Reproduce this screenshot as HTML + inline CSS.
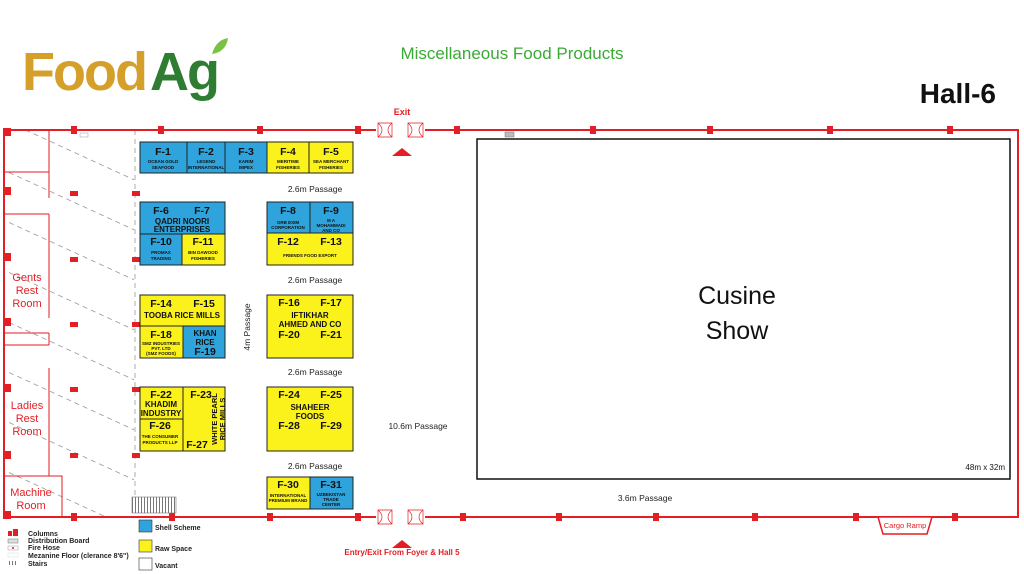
<!DOCTYPE html>
<html><head><meta charset="utf-8"><style>
html,body{margin:0;padding:0;background:#fff;width:1024px;height:574px;overflow:hidden}
svg{display:block;position:absolute;left:0;top:0}
text{font-family:"Liberation Sans",sans-serif}
.b{font-weight:bold}
</style></head><body>
<svg width="1024" height="574" viewBox="0 0 1024 574">
<defs>
<pattern id="st" width="3" height="10" patternUnits="userSpaceOnUse"><rect width="3" height="10" fill="#fff"/><rect width="1" height="10" fill="#777"/></pattern>
<clipPath id="lc"><rect x="6" y="131" width="128" height="385"/></clipPath>
</defs>
<!-- header -->
<text x="22" y="90" font-size="54" font-weight="bold" fill="#d4a02a" letter-spacing="-2">Food</text>
<text x="150" y="90" font-size="54" font-weight="bold" fill="#2e7d32" letter-spacing="-2">Ag</text>
<path d="M212 54 q4 -14 16 -16 q-2 14 -16 16z" fill="#7cc242"/>
<text x="512" y="59" font-size="17" fill="#3aaa35" text-anchor="middle">Miscellaneous Food Products</text>
<text x="996" y="103" font-size="28" font-weight="bold" fill="#111" text-anchor="end">Hall-6</text>
<text x="402" y="115" font-size="9" fill="#e31e24" text-anchor="middle" class="b">Exit</text>
<polygon points="392,156 402,148 412,156" fill="#e31e24"/>
<!-- hatch area -->
<g clip-path="url(#lc)" stroke="#999" stroke-width="0.8" stroke-dasharray="5,4">
<line x1="-40" y1="100" x2="200" y2="210"/><line x1="-40" y1="150" x2="200" y2="260"/>
<line x1="-40" y1="200" x2="200" y2="310"/><line x1="-40" y1="250" x2="200" y2="360"/>
<line x1="-40" y1="300" x2="200" y2="410"/><line x1="-40" y1="350" x2="200" y2="460"/>
<line x1="-40" y1="400" x2="200" y2="510"/><line x1="-40" y1="450" x2="200" y2="560"/>
<line x1="-40" y1="50" x2="200" y2="160"/><line x1="-40" y1="500" x2="200" y2="610"/>
</g>
<line x1="135" y1="130" x2="135" y2="516" stroke="#999" stroke-width="0.8" stroke-dasharray="5,4"/>
<!-- inner rooms -->
<g stroke="#e31e24" stroke-width="1" fill="none">
<line x1="49" y1="130" x2="49" y2="198"/>
<line x1="4" y1="172" x2="49" y2="172"/>
<line x1="4" y1="214" x2="49" y2="214"/>
<line x1="49" y1="214" x2="49" y2="318"/>
<line x1="4" y1="333" x2="49" y2="333"/>
<line x1="49" y1="333" x2="49" y2="345"/>
<line x1="4" y1="345" x2="49" y2="345"/>
<line x1="49" y1="368" x2="49" y2="476"/>
<rect x="4" y="476" width="58" height="41"/>
</g>
<text x="27" y="281" font-size="11" fill="#e31e24" text-anchor="middle">Gents</text>
<text x="27" y="294" font-size="11" fill="#e31e24" text-anchor="middle">Rest</text>
<text x="27" y="307" font-size="11" fill="#e31e24" text-anchor="middle">Room</text>
<text x="27" y="409" font-size="11" fill="#e31e24" text-anchor="middle">Ladies</text>
<text x="27" y="422" font-size="11" fill="#e31e24" text-anchor="middle">Rest</text>
<text x="27" y="435" font-size="11" fill="#e31e24" text-anchor="middle">Room</text>
<text x="31" y="496" font-size="11" fill="#e31e24" text-anchor="middle">Machine</text>
<text x="31" y="509" font-size="11" fill="#e31e24" text-anchor="middle">Room</text>
<!-- walls -->
<g stroke="#e31e24" stroke-width="2" fill="none">
<polyline points="376,130 4,130 4,517 376,517"/>
<polyline points="425,130 1018,130 1018,517 425,517"/>
</g>
<g stroke="#e31e24" stroke-width="0.7" fill="none">
<path d="M378 123 h14 v14 h-14 z M378 123 q8 7 0 14 M392 123 q-8 7 0 14"/>
<path d="M408 123 h15 v14 h-15 z M408 123 q8 7 0 14 M423 123 q-8 7 0 14"/>
<path d="M378 510 h14 v14 h-14 z M378 510 q8 7 0 14 M392 510 q-8 7 0 14"/>
<path d="M408 510 h15 v14 h-15 z M408 510 q8 7 0 14 M423 510 q-8 7 0 14"/>
</g>
<polygon points="878,517 932,517 927,534 883,534" fill="#fff" stroke="#e31e24" stroke-width="1.5"/>
<text x="905" y="528" font-size="7.5" fill="#e31e24" text-anchor="middle">Cargo Ramp</text>
<text x="402" y="555" font-size="8" fill="#e31e24" text-anchor="middle" class="b">Entry/Exit From Foyer &amp; Hall 5</text>
<polygon points="392,548 402,540 412,548" fill="#e31e24"/>
<!-- columns -->
<g fill="#e31e24">
<rect x="3" y="128" width="8" height="8"/>
<rect x="71" y="126" width="6" height="8"/><rect x="158" y="126" width="6" height="8"/><rect x="257" y="126" width="6" height="8"/><rect x="355" y="126" width="6" height="8"/><rect x="454" y="126" width="6" height="8"/>
<rect x="590" y="126" width="6" height="8"/><rect x="707" y="126" width="6" height="8"/><rect x="827" y="126" width="6" height="8"/><rect x="947" y="126" width="6" height="8"/>
<rect x="3" y="187" width="8" height="8"/><rect x="3" y="253" width="8" height="8"/><rect x="3" y="318" width="8" height="8"/><rect x="3" y="384" width="8" height="8"/><rect x="3" y="451" width="8" height="8"/><rect x="3" y="511" width="8" height="8"/>
<rect x="70" y="191" width="8" height="5"/><rect x="70" y="257" width="8" height="5"/><rect x="70" y="322" width="8" height="5"/><rect x="70" y="387" width="8" height="5"/><rect x="70" y="453" width="8" height="5"/>
<rect x="132" y="191" width="8" height="5"/><rect x="132" y="257" width="8" height="5"/><rect x="132" y="322" width="8" height="5"/><rect x="132" y="387" width="8" height="5"/><rect x="132" y="453" width="8" height="5"/>
<rect x="71" y="513" width="6" height="8"/><rect x="169" y="513" width="6" height="8"/><rect x="267" y="513" width="6" height="8"/><rect x="355" y="513" width="6" height="8"/>
<rect x="460" y="513" width="6" height="8"/><rect x="556" y="513" width="6" height="8"/><rect x="653" y="513" width="6" height="8"/><rect x="752" y="513" width="6" height="8"/><rect x="853" y="513" width="6" height="8"/><rect x="952" y="513" width="6" height="8"/>
</g>
<rect x="80" y="133" width="8" height="4" fill="#fff" stroke="#999" stroke-width="0.5"/>
<rect x="505" y="132" width="9" height="5" fill="#bbb" stroke="#777" stroke-width="0.5"/>
<rect x="132" y="497" width="44" height="16" fill="url(#st)" stroke="#777" stroke-width="0.6"/>
<!-- Cusine show -->
<rect x="477" y="139" width="533" height="340" fill="#fff" stroke="#111" stroke-width="1.5"/>
<text x="737" y="304" font-size="25" fill="#111" text-anchor="middle">Cusine</text>
<text x="737" y="339" font-size="25" fill="#111" text-anchor="middle">Show</text>
<text x="1005" y="470" font-size="8" fill="#111" text-anchor="end">48m x 32m</text>
<!-- passages -->
<g font-size="8.5" fill="#222" text-anchor="middle">
<text x="315" y="192">2.6m Passage</text>
<text x="315" y="283">2.6m Passage</text>
<text x="315" y="375">2.6m Passage</text>
<text x="315" y="469">2.6m Passage</text>
<text x="418" y="429">10.6m Passage</text>
<text x="645" y="501">3.6m Passage</text>
<text transform="translate(250,327) rotate(-90)">4m Passage</text>
</g>
<!-- booths -->
<g stroke="#222" stroke-width="1">
<rect x="140" y="142" width="47" height="31" fill="#2fa4dc"/>
<rect x="187" y="142" width="38" height="31" fill="#2fa4dc"/>
<rect x="225" y="142" width="42" height="31" fill="#2fa4dc"/>
<rect x="267" y="142" width="42" height="31" fill="#fbf21c"/>
<rect x="309" y="142" width="44" height="31" fill="#fbf21c"/>
<rect x="140" y="202" width="85" height="32" fill="#2fa4dc"/>
<rect x="140" y="234" width="42" height="31" fill="#2fa4dc"/>
<rect x="182" y="234" width="43" height="31" fill="#fbf21c"/>
<rect x="267" y="202" width="43" height="31" fill="#2fa4dc"/>
<rect x="310" y="202" width="43" height="31" fill="#2fa4dc"/>
<rect x="267" y="233" width="86" height="32" fill="#fbf21c"/>
<rect x="140" y="295" width="85" height="31" fill="#fbf21c"/>
<rect x="140" y="326" width="43" height="32" fill="#fbf21c"/>
<rect x="183" y="326" width="42" height="32" fill="#2fa4dc"/>
<rect x="267" y="295" width="86" height="63" fill="#fbf21c"/>
<rect x="140" y="387" width="43" height="32" fill="#fbf21c"/>
<rect x="140" y="419" width="43" height="32" fill="#fbf21c"/>
<rect x="183" y="387" width="42" height="64" fill="#fbf21c"/>
<rect x="267" y="387" width="86" height="64" fill="#fbf21c"/>
<rect x="267" y="477" width="43" height="32" fill="#fbf21c"/>
<rect x="310" y="477" width="43" height="32" fill="#2fa4dc"/>
</g>
<g fill="#111" font-weight="bold" text-anchor="middle">
<g font-size="10.5">
<text x="163" y="155">F-1</text><text x="206" y="155">F-2</text><text x="246" y="155">F-3</text><text x="288" y="155">F-4</text><text x="331" y="155">F-5</text>
<text x="161" y="214">F-6</text><text x="202" y="214">F-7</text><text x="161" y="245">F-10</text><text x="203" y="245">F-11</text>
<text x="288" y="214">F-8</text><text x="331" y="214">F-9</text><text x="288" y="245">F-12</text><text x="331" y="245">F-13</text>
<text x="161" y="307">F-14</text><text x="204" y="307">F-15</text><text x="161" y="338">F-18</text><text x="205" y="355">F-19</text>
<text x="289" y="306">F-16</text><text x="331" y="306">F-17</text><text x="289" y="338">F-20</text><text x="331" y="338">F-21</text>
<text x="161" y="398">F-22</text><text x="160" y="429">F-26</text><text x="201" y="398">F-23</text><text x="197" y="448">F-27</text>
<text x="289" y="398">F-24</text><text x="331" y="398">F-25</text><text x="289" y="429">F-28</text><text x="331" y="429">F-29</text>
<text x="288" y="488">F-30</text><text x="331" y="488">F-31</text>
</g>
<g font-size="8">
<text x="182" y="224">QADRI NOORI</text><text x="182" y="232">ENTERPRISES</text>
<text x="182" y="318">TOOBA RICE MILLS</text>
<text x="205" y="336">KHAN</text><text x="205" y="345">RICE</text>
<text x="310" y="318">IFTIKHAR</text><text x="310" y="327">AHMED AND CO</text>
<text x="161" y="407">KHADIM</text><text x="161" y="416">INDUSTRY</text>
<text x="310" y="410">SHAHEER</text><text x="310" y="419">FOODS</text>
<text transform="translate(217,419) rotate(-90)" font-size="7.5">WHITE PEARL</text>
<text transform="translate(225,419) rotate(-90)" font-size="7.5">RICE MILLS</text>
</g>
<g font-size="4.5">
<text x="163" y="163">OCEAN GOLD</text><text x="163" y="169">SEAFOOD</text>
<text x="206" y="163">LEGEND</text><text x="206" y="169">INTERNATIONAL</text>
<text x="246" y="163">KARIM</text><text x="246" y="169">IMPEX</text>
<text x="288" y="163">MERITIME</text><text x="288" y="169">FISHERIES</text>
<text x="331" y="163">SEA MERCHANT</text><text x="331" y="169">FISHERIES</text>
<text x="161" y="254">PROMAX</text><text x="161" y="260">TRADING</text>
<text x="203" y="254">BIN DAWOOD</text><text x="203" y="260">FISHERIES</text>
<text x="288" y="224">ORB EXIM</text><text x="288" y="229">CORPORATION</text>
<text x="331" y="222">M A</text><text x="331" y="227">MOHAMMADI</text><text x="331" y="232">AND CO</text>
<text x="310" y="257">FRIENDS FOOD EXPORT</text>
<text x="161" y="345">SMZ INDUSTRIES</text><text x="161" y="350">PVT. LTD</text><text x="161" y="355">(SMZ FOODS)</text>
<text x="160" y="438">THE CONSUMER</text><text x="160" y="444">PRODUCTS LLP</text>
<text x="288" y="497">INTERNATIONAL</text><text x="288" y="502">PREMIUM BRAND</text>
<text x="331" y="496">UZBEKISTAN</text><text x="331" y="501">TRADE</text><text x="331" y="506">CENTER</text>
</g>
</g>
<!-- legend -->
<rect x="8" y="531" width="4" height="5" fill="#e31e24"/><rect x="13" y="529" width="5" height="7" fill="#e31e24"/>
<rect x="8" y="539" width="10" height="4" fill="#ddd" stroke="#777" stroke-width="0.5"/>
<rect x="8" y="546" width="10" height="4" fill="#fff" stroke="#999" stroke-width="0.5"/><circle cx="13" cy="548" r="1" fill="#e31e24"/>
<rect x="8" y="553" width="10" height="4" fill="#fff" stroke="#ddd" stroke-width="0.5"/>
<rect x="8" y="561" width="10" height="4" fill="url(#st)"/>
<g font-size="7" font-weight="bold" fill="#222">
<text x="28" y="536">Columns</text><text x="28" y="543">Distribution Board</text><text x="28" y="550">Fire Hose</text>
<text x="28" y="558">Mezanine Floor (clerance 8'6")</text><text x="28" y="566">Stairs</text>
<text x="155" y="530">Shell Scheme</text><text x="155" y="551">Raw Space</text><text x="155" y="568">Vacant</text>
</g>
<rect x="139" y="520" width="13" height="12" fill="#2fa4dc" stroke="#333" stroke-width="0.6"/>
<rect x="139" y="540" width="13" height="12" fill="#fbf21c" stroke="#333" stroke-width="0.6"/>
<rect x="139" y="558" width="13" height="12" fill="#fff" stroke="#333" stroke-width="0.6"/>
</svg>
</body></html>
